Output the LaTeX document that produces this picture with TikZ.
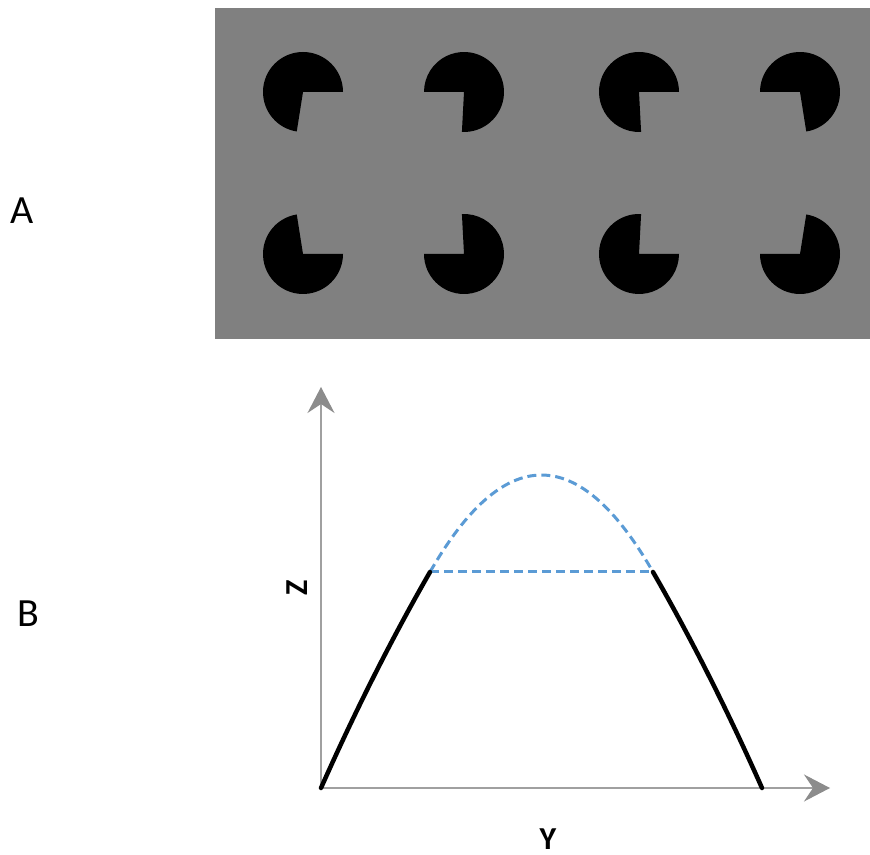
\documentclass[tikz,border=0pt]{standalone}
\usepackage{fontspec}
\setmainfont{Carlito}
\usetikzlibrary{arrows.meta}
\definecolor{panelgray}{HTML}{808080}
\definecolor{axiscolor}{HTML}{A0A0A0}
\definecolor{tipcolor}{HTML}{8C8C8C}
\definecolor{dashblue}{HTML}{5B9BD5}

\begin{document}
\begin{tikzpicture}[
    x=1pt, y=1pt,
    pac/.style={fill=black},
    axis/.style={axiscolor, line width=1.5pt, -{Stealth[length=26pt, width=27pt, inset=9pt, color=tipcolor]}},
    solid curve/.style={black, line width=4.5pt, line cap=round},
    dash curve/.style={dashblue, line width=3pt, dash pattern=on 9pt off 5pt},
    panel/.style={font=\fontsize{40}{48}\selectfont},
    axlab/.style={font=\bfseries\fontsize{32}{38}\selectfont, inner sep=0pt},
]
\useasboundingbox (0,0) rectangle (870,854);

% ---------------- A: the pacmen
\node[panel] (labA) at (22,643) {A};
\fill[panelgray] (215,515) rectangle (870,846);
\foreach \cx/\cy/\a/\b in {303/762/0/261, 464/762/-93/180, 639/762/0/273, 800/762/-81/180,
                           303/600/99/360, 464/600/180/453, 639/600/87/360, 800/600/180/441}{
    \fill[pac] (\cx,\cy) -- ++(\a:40pt) arc[start angle=\a, end angle=\b, radius=40pt] -- cycle;
}

% ---------------- B: the profile
\node[panel] (labB) at (28,240) {B};
\coordinate (O) at (321,66);
\coordinate (ztip) at (321,467);
\coordinate (ytip) at (830,66);
\draw[axis] (O) -- (ztip);
\draw[axis] (O) -- (ytip);
\node[axlab, rotate=90] (labZ) at (297,266) {Z};
\node[axlab, anchor=base] (labY) at (548,5) {Y};

\coordinate (left) at (430,282);
\coordinate (right) at (653,282);
\coordinate (foot) at (762,66);
\draw[dash curve] (left) .. controls (504.3,411.3) and (578.7,411.3) .. (right);
\draw[dash curve] (left) -- (right);
\draw[solid curve] (O) .. controls (357.3,147.8) and (393.7,218.8) .. (left);
\draw[solid curve] (right) .. controls (689.3,218.8) and (725.7,147.8) .. (foot);
\end{tikzpicture}
\end{document}
